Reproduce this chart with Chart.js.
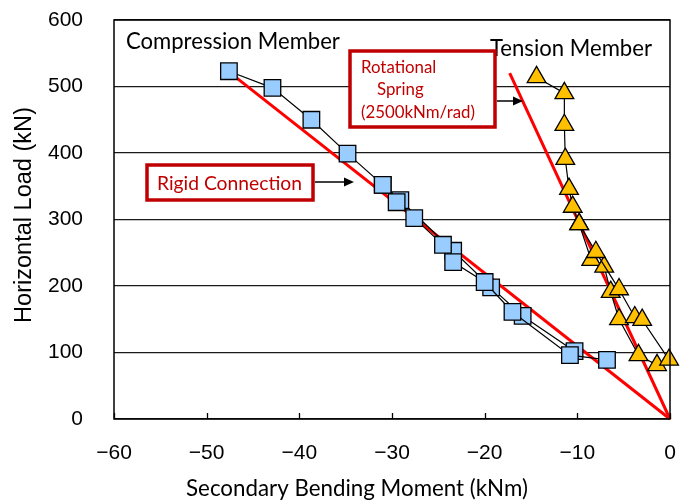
<!DOCTYPE html>
<html>
<head>
<meta charset="utf-8">
<script src="https://cdn.jsdelivr.net/npm/chart.js@4.4.1/dist/chart.umd.min.js"></script>
<style>
html,body{margin:0;padding:0;background:#fff;}
#wrap{width:683px;height:502px;position:relative;}
</style>
</head>
<body>
<div id="wrap"><canvas id="c" width="683" height="502"></canvas></div>
<script>
// ---- data ----
const momentTicks = [-60, -50, -40, -30, -20, -10, 0];
const loadTicks = [0, 100, 200, 300, 400, 500, 600];

// Compression member (two measured traces)
const compA_moment = [-47.6, -42.9, -38.7, -34.8, -31.0, -29.5, -27.6, -24.5, -23.4, -20.0, -17.0, -10.8, -6.8];
const compA_load   = [523, 498, 450, 399, 352, 326, 302, 262, 236, 206, 161, 96, 89];
const compB_moment = [-31.0, -29.1, -23.4, -19.3, -15.9, -10.3];
const compB_load   = [352, 329, 253, 198, 155, 102];

// Tension member (two measured traces)
const tenA_moment = [-14.4, -11.4, -11.4, -11.3, -10.9, -10.5, -9.8, -8.0, -5.5, -3.8, -3.0, -0.1];
const tenA_load   = [514, 490, 442, 391, 346, 319, 293, 251, 195, 153, 149, 89];
const tenB_moment = [-9.8, -8.5, -7.1, -6.4, -5.5, -3.4, -1.4];
const tenB_load   = [293, 239, 229, 191, 150, 96, 81];

// Analytical lines
const rigid_moment  = [0, -47.6];
const rigid_load    = [0, 522];
const spring_moment = [0, -17.3];
const spring_load   = [0, 520];

// ---- helpers ----
const pts = (xs, ys) => xs.map((x, i) => ({ x: x, y: ys[i] }));
const fmt = v => (v < 0 ? '\u2212' + Math.abs(v) : String(v));

function fitSize(ctx, text, family, width) {
  ctx.save();
  ctx.font = '100px ' + family;
  const w = ctx.measureText(text).width;
  ctx.restore();
  return 100 * width / w;
}
function noPad(s) {
  s.paddingTop = 0; s.paddingBottom = 0; s.paddingLeft = 0; s.paddingRight = 0;
}

const squareStyle = {
  pointStyle: 'rect', pointRadius: 11.7, pointHoverRadius: 11.7,
  pointBackgroundColor: '#99ccff', pointBorderColor: '#000', pointBorderWidth: 1.3,
  borderColor: '#000', borderWidth: 1.2, showLine: true, clip: false, order: 1
};
const triStyle = {
  pointStyle: 'triangle', pointRadius: 10.8, pointHoverRadius: 10.8,
  pointBackgroundColor: '#ffc000', pointBorderColor: '#000', pointBorderWidth: 1.3,
  borderColor: '#000', borderWidth: 1.2, showLine: true, clip: false, order: 1
};
const redStyle = {
  pointRadius: 0, borderColor: '#ff0000', borderWidth: 3, showLine: true, order: 5, clip: false
};

const decor = {
  id: 'decor',
  afterDraw(chart) {
    const ctx = chart.ctx;
    const a = chart.chartArea;
    const xs = chart.scales.x;
    ctx.save();
    // frame
    ctx.strokeStyle = '#000';
    ctx.lineWidth = 1.5;
    ctx.strokeRect(a.left, a.top, a.right - a.left, a.bottom - a.top);
    // inner ticks on x axis
    ctx.lineWidth = 1.3;
    momentTicks.forEach(v => {
      const px = Math.round(xs.getPixelForValue(v)) + 0.5;
      ctx.beginPath();
      ctx.moveTo(px, a.bottom);
      ctx.lineTo(px, a.bottom - 6);
      ctx.stroke();
    });

    // axis titles
    ctx.fillStyle = '#000';
    const xt = 'Secondary Bending Moment (kNm)';
    ctx.font = fitSize(ctx, xt, 'Lato', 342) + 'px Lato';
    ctx.textAlign = 'center';
    ctx.textBaseline = 'alphabetic';
    ctx.fillText(xt, 357, 496);

    const yt = 'Horizontal Load (kN)';
    ctx.save();
    ctx.translate(31, 215);
    ctx.rotate(-Math.PI / 2);
    ctx.font = fitSize(ctx, yt, '"Liberation Sans"', 216) + 'px "Liberation Sans"';
    ctx.textAlign = 'center';
    ctx.fillText(yt, 0, 0);
    ctx.restore();

    // member labels
    ctx.textAlign = 'left';
    const cm = 'Compression Member';
    ctx.font = fitSize(ctx, cm, 'Lato', 214) + 'px Lato';
    ctx.fillText(cm, 126, 49);
    const tm = 'Tension Member';
    ctx.font = fitSize(ctx, tm, 'Lato', 162) + 'px Lato';
    ctx.fillText(tm, 490, 56);

    // annotation boxes
    const red = '#c00000';
    ctx.lineWidth = 3.5;
    ctx.strokeStyle = red;
    ctx.fillStyle = '#fff';
    ctx.fillRect(147, 165, 166, 35);
    ctx.strokeRect(147, 165, 166, 35);
    ctx.fillRect(350, 51, 145, 76);
    ctx.strokeRect(350, 51, 145, 76);

    ctx.fillStyle = red;
    const rc = 'Rigid Connection';
    ctx.font = fitSize(ctx, rc, 'Lato', 145) + 'px Lato';
    ctx.fillText(rc, 157, 190);

    const rsz = fitSize(ctx, '(2500kNm/rad)', 'Lato', 114);
    ctx.font = rsz + 'px Lato';
    ctx.fillText('Rotational', 361, 73);
    ctx.fillText('Spring', 377, 95);
    ctx.fillText('(2500kNm/rad)', 361, 118);

    // arrows
    function arrow(x1, x2, y) {
      ctx.strokeStyle = '#000';
      ctx.fillStyle = '#000';
      ctx.lineWidth = 1.5;
      ctx.beginPath();
      ctx.moveTo(x1, y);
      ctx.lineTo(x2 - 8, y);
      ctx.stroke();
      ctx.beginPath();
      ctx.moveTo(x2, y);
      ctx.lineTo(x2 - 10, y - 4.5);
      ctx.lineTo(x2 - 10, y + 4.5);
      ctx.closePath();
      ctx.fill();
    }
    arrow(315, 354, 182);
    arrow(497, 523, 101);
    ctx.restore();
  }
};

new Chart(document.getElementById('c'), {
  type: 'scatter',
  data: {
    datasets: [
      Object.assign({ label: 'Compression A', data: pts(compA_moment, compA_load) }, squareStyle),
      Object.assign({ label: 'Compression B', data: pts(compB_moment, compB_load) }, squareStyle),
      Object.assign({ label: 'Tension A', data: pts(tenA_moment, tenA_load) }, triStyle),
      Object.assign({ label: 'Tension B', data: pts(tenB_moment, tenB_load) }, triStyle),
      Object.assign({ label: 'Rigid Connection', data: pts(rigid_moment, rigid_load) }, redStyle),
      Object.assign({ label: 'Rotational Spring', data: pts(spring_moment, spring_load) }, redStyle)
    ]
  },
  options: {
    responsive: false,
    animation: false,
    devicePixelRatio: 1,
    layout: { padding: { top: 20, right: 11, left: 0, bottom: 0 } },
    plugins: { legend: { display: false }, tooltip: { enabled: false } },
    elements: { line: { tension: 0 } },
    scales: {
      x: {
        type: 'linear', min: -60, max: 0,
        afterBuildTicks: s => { s.ticks = momentTicks.map(v => ({ value: v })); },
        afterFit: s => { s.height = 83; noPad(s); },
        grid: { display: false },
        border: { display: false },
        ticks: {
          color: '#000', padding: 14, maxRotation: 0, autoSkip: false,
          font: { family: '"Liberation Sans"', size: 21 },
          callback: v => fmt(v)
        }
      },
      y: {
        type: 'linear', min: 0, max: 600,
        afterBuildTicks: s => { s.ticks = loadTicks.map(v => ({ value: v })); },
        afterFit: s => { s.width = 114; noPad(s); },
        grid: { color: '#1a1a1a', lineWidth: 1.3, drawTicks: false },
        border: { display: false },
        ticks: {
          color: '#000', padding: 31, autoSkip: false,
          font: { family: '"Liberation Sans"', size: 21 },
          callback: v => fmt(v)
        }
      }
    }
  },
  plugins: [decor]
});
</script>
</body>
</html>
